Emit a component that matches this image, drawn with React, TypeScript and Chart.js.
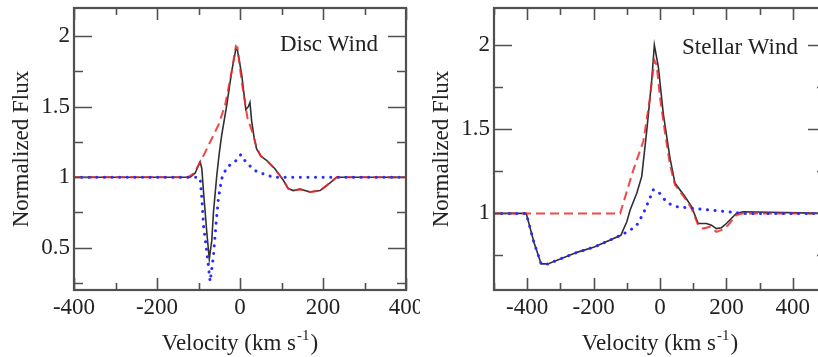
import React, { useEffect, useRef } from 'react';
import { Chart, registerables } from 'chart.js';

Chart.register(...registerables);

const FONT = '"Liberation Serif", "Times New Roman", serif';
const INK = '#222222';

// ---------- Disc Wind panel ----------
const discBlackVel = [-400, -120, -108, -96, -92, -88, -80, -74, -68, -64, -56, -50, -44, -32, -20, -10, -6, 4, 14, 20, 24, 28, 34, 40, 50, 64, 84, 104, 116, 128, 145, 169, 193, 217, 233, 400];
const discBlackFlux = [1.0, 1.0, 1.03, 1.11, 1.06, 0.9, 0.61, 0.42, 0.55, 0.75, 1.01, 1.17, 1.3, 1.51, 1.75, 1.91, 1.9, 1.73, 1.48, 1.5, 1.53, 1.4, 1.28, 1.2, 1.15, 1.12, 1.06, 0.98, 0.92, 0.905, 0.915, 0.895, 0.905, 0.96, 1.0, 1.0];

const discRedVel = [-400, -125, -110, -96, -85, -72, -52, -36, -20, -10, -6, 4, 18, 32, 40, 50, 64, 84, 104, 116, 128, 145, 169, 193, 217, 233, 400];
const discRedFlux = [1.0, 1.0, 1.03, 1.11, 1.17, 1.25, 1.37, 1.51, 1.75, 1.93, 1.92, 1.68, 1.42, 1.3, 1.21, 1.15, 1.12, 1.06, 0.98, 0.92, 0.905, 0.915, 0.895, 0.905, 0.96, 1.0, 1.0];

const discBlueVel = [-400, -100, -96, -92, -88, -80, -72, -64, -58, -52, -44, -32, -12, 2, 16, 40, 80, 400];
const discBlueFlux = [1.0, 1.0, 0.99, 0.85, 0.66, 0.47, 0.26, 0.44, 0.66, 0.85, 0.99, 1.07, 1.11, 1.16, 1.1, 1.04, 1.0, 1.0];

const discXTicks = [-400, -300, -200, -100, 0, 100, 200, 300, 400];
const discXTickLabels = ['-400', '', '-200', '', '0', '', '200', '', '400'];
const discYTicks = [0.25, 0.5, 0.75, 1, 1.25, 1.5, 1.75, 2];
const discYTickLabels = ['', '0.5', '', '1', '', '1.5', '', '2'];

// ---------- Stellar Wind panel ----------
const stellarBlackVel = [-500, -403, -380, -358, -338, -248, -198, -118, -100, -90, -70, -55, -40, -25, -17, -5, 10, 30, 45, 75, 95, 115, 140, 155, 170, 185, 200, 230, 250, 500];
const stellarBlackFlux = [1.0, 1.0, 0.83, 0.7, 0.7, 0.77, 0.8, 0.87, 0.95, 1.02, 1.12, 1.22, 1.49, 1.79, 2.0, 1.87, 1.59, 1.33, 1.18, 1.1, 1.04, 0.94, 0.94, 0.93, 0.91, 0.915, 0.94, 1.0, 1.01, 1.0];

const stellarRedVel = [-500, -120, -100, -80, -50, -30, -17, -10, 0, 15, 30, 45, 75, 95, 115, 130, 150, 170, 190, 205, 230, 250, 500];
const stellarRedFlux = [1.0, 1.0, 1.13, 1.26, 1.43, 1.69, 1.91, 1.88, 1.69, 1.48, 1.29, 1.17, 1.09, 1.03, 0.93, 0.91, 0.92, 0.89, 0.905, 0.93, 0.99, 1.0, 1.0];

const stellarBlueVel = [-500, -403, -380, -358, -338, -248, -198, -118, -90, -70, -50, -35, -20, -5, 10, 25, 50, 100, 200, 250, 500];
const stellarBlueFlux = [1.0, 1.0, 0.83, 0.7, 0.7, 0.77, 0.8, 0.87, 0.9, 0.93, 1.0, 1.07, 1.14, 1.13, 1.09, 1.06, 1.04, 1.03, 1.01, 1.0, 1.0];

const stellarXTicks = [-500, -400, -300, -200, -100, 0, 100, 200, 300, 400, 500];
const stellarXTickLabels = ['', '-400', '', '-200', '', '0', '', '200', '', '400', ''];
const stellarYTicks = [0.75, 1, 1.25, 1.5, 1.75, 2];
const stellarYTickLabels = ['', '1', '', '1.5', '', '2'];

function zip(xs: number[], ys: number[]) {
  return xs.map((x, i) => ({ x, y: ys[i] }));
}

type PanelSpec = {
  label: string;
  labelBaseline: number;
  xMin: number;
  xMax: number;
  yMin: number;
  yMax: number;
  xTicks: number[];
  xTickLabels: string[];
  yTicks: number[];
  yTickLabels: string[];
  black: { x: number; y: number }[];
  red: { x: number; y: number }[];
  blue: { x: number; y: number }[];
};

function framePlugin(spec: PanelSpec) {
  return {
    id: 'frameAndText',
    afterDraw(chart: any) {
      const { ctx, chartArea: a, scales } = chart;
      const xs = scales.x;
      const ys = scales.y;
      ctx.save();
      ctx.strokeStyle = '#505050';
      ctx.lineWidth = 1.6;
      ctx.beginPath();
      spec.xTicks.forEach((v, i) => {
        const px = Math.round(xs.getPixelForValue(v)) + 0.5;
        const len = spec.xTickLabels[i] !== '' ? 12 : 7;
        ctx.moveTo(px, a.bottom);
        ctx.lineTo(px, a.bottom - len);
        ctx.moveTo(px, a.top);
        ctx.lineTo(px, a.top + len);
      });
      spec.yTicks.forEach((v, i) => {
        const py = Math.round(ys.getPixelForValue(v)) + 0.5;
        const len = spec.yTickLabels[i] !== '' ? 18 : 9;
        ctx.moveTo(a.left, py);
        ctx.lineTo(a.left + len, py);
        ctx.moveTo(a.right, py);
        ctx.lineTo(a.right - len, py);
      });
      ctx.stroke();
      ctx.strokeStyle = '#505050';
      ctx.lineWidth = 2.2;
      ctx.strokeRect(a.left, a.top, a.right - a.left, a.bottom - a.top);

      ctx.fillStyle = INK;
      ctx.font = `23px ${FONT}`;
      ctx.textAlign = 'right';
      ctx.textBaseline = 'alphabetic';
      ctx.fillText(spec.label, 378, spec.labelBaseline);

      ctx.save();
      ctx.translate(22, (a.top + a.bottom) / 2);
      ctx.rotate(-Math.PI / 2);
      ctx.textAlign = 'center';
      ctx.textBaseline = 'middle';
      ctx.font = `23px ${FONT}`;
      ctx.fillText('Normalized Flux', 0, 0);
      ctx.restore();

      const main = 'Velocity (km s';
      const sup = '-1';
      const end = ')';
      ctx.font = `23px ${FONT}`;
      const w1 = ctx.measureText(main).width;
      const w3 = ctx.measureText(end).width;
      ctx.font = `15px ${FONT}`;
      const w2 = ctx.measureText(sup).width + 2;
      const total = w1 + w2 + w3;
      const cx = (a.left + a.right) / 2;
      let x = cx - total / 2;
      const base = 350;
      ctx.textAlign = 'left';
      ctx.textBaseline = 'alphabetic';
      ctx.font = `23px ${FONT}`;
      ctx.fillText(main, x, base);
      x += w1;
      ctx.font = `15px ${FONT}`;
      ctx.fillText(sup, x + 1, base - 10);
      x += w2;
      ctx.font = `23px ${FONT}`;
      ctx.fillText(end, x, base);
      ctx.restore();
    },
  };
}

function makeConfig(spec: PanelSpec): any {
  return {
    type: 'line',
    data: {
      datasets: [
        {
          label: 'blue',
          data: spec.blue,
          borderColor: '#2b2bff',
          borderWidth: 3,
          borderDash: [0.1, 7.5],
          borderCapStyle: 'round',
          pointRadius: 0,
          tension: 0,
          order: 0,
        },
        {
          label: 'red',
          data: spec.red,
          borderColor: 'rgba(240,40,40,0.85)',
          borderWidth: 2,
          borderDash: [9, 5],
          pointRadius: 0,
          tension: 0,
          order: 1,
        },
        {
          label: 'black',
          data: spec.black,
          borderColor: '#303030',
          borderWidth: 1.6,
          pointRadius: 0,
          tension: 0,
          order: 2,
        },
      ],
    },
    options: {
      responsive: false,
      animation: false,
      devicePixelRatio: 1,
      layout: { padding: { top: 8, right: 14, left: 0, bottom: 0 } },
      plugins: {
        legend: { display: false },
        tooltip: { enabled: false },
      },
      scales: {
        x: {
          type: 'linear',
          min: spec.xMin,
          max: spec.xMax,
          grid: { display: false, drawTicks: false },
          border: { display: false },
          afterBuildTicks: (axis: any) => {
            axis.ticks = spec.xTicks.map((v) => ({ value: v }));
          },
          afterFit: (scale: any) => {
            scale.height = 67;
            scale.paddingLeft = 0;
            scale.paddingRight = 0;
          },
          ticks: {
            autoSkip: false,
            maxRotation: 0,
            minRotation: 0,
            padding: 4,
            color: INK,
            font: { family: FONT, size: 23 },
            callback: (_v: any, i: number) => spec.xTickLabels[i],
          },
        },
        y: {
          type: 'linear',
          min: spec.yMin,
          max: spec.yMax,
          grid: { display: false, drawTicks: false },
          border: { display: false },
          afterBuildTicks: (axis: any) => {
            axis.ticks = spec.yTicks.map((v) => ({ value: v }));
          },
          afterFit: (scale: any) => {
            scale.width = 74;
            scale.paddingTop = 0;
            scale.paddingBottom = 0;
          },
          ticks: {
            autoSkip: false,
            padding: 4,
            color: INK,
            font: { family: FONT, size: 23 },
            callback: (_v: any, i: number) => spec.yTickLabels[i],
          },
        },
      },
    },
    plugins: [framePlugin(spec)],
  };
}

const discSpec: PanelSpec = {
  label: 'Disc Wind',
  labelBaseline: 51,
  xMin: -400,
  xMax: 400,
  yMin: 0.2,
  yMax: 2.2,
  xTicks: discXTicks,
  xTickLabels: discXTickLabels,
  yTicks: discYTicks,
  yTickLabels: discYTickLabels,
  black: zip(discBlackVel, discBlackFlux),
  red: zip(discRedVel, discRedFlux),
  blue: zip(discBlueVel, discBlueFlux),
};

const stellarSpec: PanelSpec = {
  label: 'Stellar Wind',
  labelBaseline: 54,
  xMin: -500,
  xMax: 500,
  yMin: 0.545,
  yMax: 2.22,
  xTicks: stellarXTicks,
  xTickLabels: stellarXTickLabels,
  yTicks: stellarYTicks,
  yTickLabels: stellarYTickLabels,
  black: zip(stellarBlackVel, stellarBlackFlux),
  red: zip(stellarRedVel, stellarRedFlux),
  blue: zip(stellarBlueVel, stellarBlueFlux),
};

export default function App() {
  const leftRef = useRef<HTMLCanvasElement | null>(null);
  const rightRef = useRef<HTMLCanvasElement | null>(null);

  useEffect(() => {
    const charts: Chart[] = [];
    if (leftRef.current) charts.push(new Chart(leftRef.current, makeConfig(discSpec)));
    if (rightRef.current) charts.push(new Chart(rightRef.current, makeConfig(stellarSpec)));
    return () => {
      charts.forEach((c) => c.destroy());
    };
  }, []);

  return (
    <div
      style={{
        position: 'fixed',
        left: 0,
        top: 0,
        width: 818,
        height: 357,
        overflow: 'hidden',
        background: '#ffffff',
      }}
    >
      <canvas
        ref={leftRef}
        width={420}
        height={357}
        style={{ position: 'absolute', left: 0, top: 0, width: 420, height: 357 }}
      />
      <canvas
        ref={rightRef}
        width={420}
        height={357}
        style={{ position: 'absolute', left: 420, top: 0, width: 420, height: 357 }}
      />
    </div>
  );
}
